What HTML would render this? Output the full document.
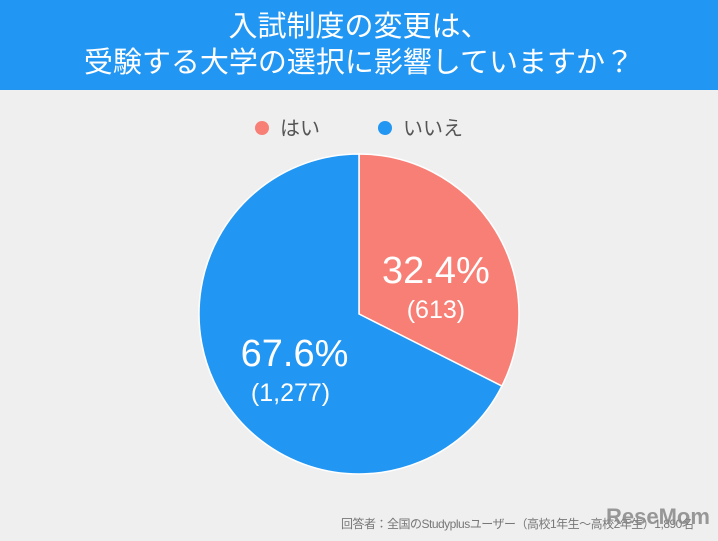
<!DOCTYPE html>
<html><head><meta charset="utf-8"><style>
body{margin:0;width:718px;height:541px;background:#efefef;overflow:hidden;font-family:"Liberation Sans","Noto Sans CJK JP",sans-serif;position:relative}
#hdr{position:absolute;left:0;top:0;width:718px;height:90px;background:#2196f3;color:#fff;text-align:center;font-size:29px;line-height:36px;padding-top:9px;box-sizing:border-box}
#foot{position:absolute;left:341px;top:515px;font-size:12px;letter-spacing:-0.5px;color:#777;white-space:nowrap}
#logo{position:absolute;left:606px;top:504px;font-size:22px;font-weight:bold;color:#888;opacity:.85;white-space:nowrap}
</style></head><body>
<div id="hdr">入試制度の変更は、<br>受験する大学の選択に影響していますか？</div>
<svg id="c" width="718" height="541" style="position:absolute;left:0;top:0"></svg>
<div id="foot">回答者：全国のStudyplusユーザー（高校1年生〜高校2年生）1,890名</div>
<div id="logo">ReseMom</div>
<script>
const labels=["はい","いいえ"];
const values=[613,1277];
const pcts=["32.4%","67.6%"];
const counts=["(613)","(1,277)"];
const colors=["#f87f76","#2196f3"];
const ns="http://www.w3.org/2000/svg";
const svg=document.getElementById('c');
const cx=359,cy=314,r=160;
const total=values.reduce((a,b)=>a+b,0);
let a0=-Math.PI/2;
function mk(t,attrs){const e=document.createElementNS(ns,t);for(const k in attrs)e.setAttribute(k,attrs[k]);svg.appendChild(e);return e;}
const offs=[[2,15],[20,0]];
values.forEach((v,i)=>{
 const a1=a0+v/total*2*Math.PI;
 const large=(a1-a0)>Math.PI?1:0;
 const p=mk('path',{d:`M${cx},${cy} L${cx+r*Math.cos(a0)},${cy+r*Math.sin(a0)} A${r},${r} 0 ${large} 1 ${cx+r*Math.cos(a1)},${cy+r*Math.sin(a1)} Z`,fill:colors[i],stroke:'#fff','stroke-width':1.5});
 
 
 const am=(a0+a1)/2, rr=i===0?r*0.55:r*0.62;
 const tx=cx+rr*Math.cos(am)+offs[i][0], ty=cy+rr*Math.sin(am)+offs[i][1];
 const t1=mk('text',{x:tx,y:ty,'text-anchor':'middle','font-size':38,fill:'#fff'});t1.textContent=pcts[i];
 
 
 const t2=mk('text',{x:tx-(i?4:0),y:ty+35,'text-anchor':'middle','font-size':25,fill:'#fff'});t2.textContent=counts[i];
 
 
 a0=a1;
});
const lx=[262,385];
labels.forEach((l,i)=>{
 const c=mk('circle',{cx:lx[i],cy:128,r:7,fill:colors[i]});
 
 
 const t=mk('text',{x:lx[i]+18,y:135,'font-size':20,fill:'#555'});t.textContent=l;
 
 
});
</script>
</body></html>
